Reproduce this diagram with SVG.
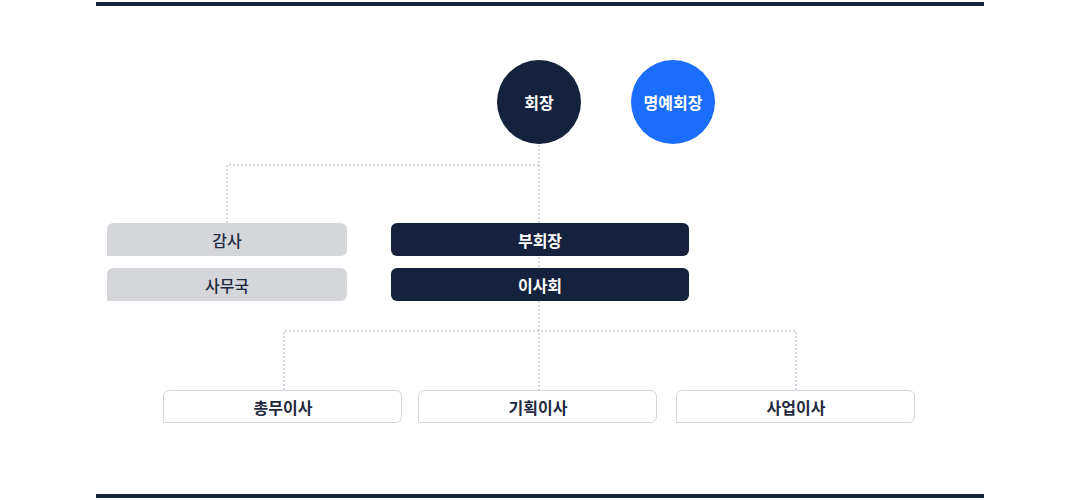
<svg xmlns="http://www.w3.org/2000/svg" width="1080" height="500" viewBox="0 0 1080 500">
<style>
text{font-family:"Noto Sans CJK KR","Noto Sans",sans-serif;text-anchor:middle;dominant-baseline:central;font-size:16px}
.w{fill:#ffffff;font-weight:bold}
.d{fill:#1f2940;font-weight:500}
.b{fill:#1f2940;font-weight:bold}
.conn{fill:none;stroke:#aeb2bc;stroke-width:1;stroke-dasharray:2 2}
.gray{fill:#d5d6da}
.navy{fill:#15223d}
.out{fill:#ffffff;stroke:#d3d6de;stroke-width:1}
</style>
<rect x="96" y="2" width="888" height="4" fill="#15223d"/>
<rect x="96" y="494" width="888" height="4" fill="#15223d"/>
<g id="connectors">
<path class="conn" d="M539 145 V390"/>
<path class="conn" d="M539 165 H227 V223"/>
<path class="conn" d="M284 390 V331 H796 V390"/>
</g>
<g id="n-chairman"><circle cx="539" cy="102" r="42" fill="#15223d"/><text class="w" x="539" y="102">회장</text></g>
<g id="n-honorary"><circle cx="673" cy="102" r="42" fill="#1a6dfd"/><text class="w" x="673" y="102">명예회장</text></g>
<g id="n-audit"><path class="gray" d="M114 223 H340 Q347 223 347 230 V249 Q347 256 340 256 H107 V230 Q107 223 114 223 Z"/><text class="d" x="227" y="239.5">감사</text></g>
<g id="n-office"><path class="gray" d="M114 268 H340 Q347 268 347 275 V294 Q347 301 340 301 H107 V275 Q107 268 114 268 Z"/><text class="d" x="227" y="284.5">사무국</text></g>
<g id="n-vice"><rect class="navy" x="391" y="223" width="298" height="33" rx="6"/><text class="w" x="540" y="239.5">부회장</text></g>
<g id="n-board"><rect class="navy" x="391" y="268" width="298" height="33" rx="6"/><text class="w" x="540" y="284.5">이사회</text></g>
<g id="n-general"><path class="out" d="M170 390.5 H395 Q401.5 390.5 401.5 397 V416 Q401.5 422.5 395 422.5 H163.5 V397 Q163.5 390.5 170 390.5 Z"/><text class="b" x="283" y="406.5">총무이사</text></g>
<g id="n-planning"><path class="out" d="M425 390.5 H650 Q656.5 390.5 656.5 397 V416 Q656.5 422.5 650 422.5 H418.5 V397 Q418.5 390.5 425 390.5 Z"/><text class="b" x="538" y="406.5">기획이사</text></g>
<g id="n-business"><path class="out" d="M683 390.5 H908 Q914.5 390.5 914.5 397 V416 Q914.5 422.5 908 422.5 H676.5 V397 Q676.5 390.5 683 390.5 Z"/><text class="b" x="796" y="406.5">사업이사</text></g>
</svg>
